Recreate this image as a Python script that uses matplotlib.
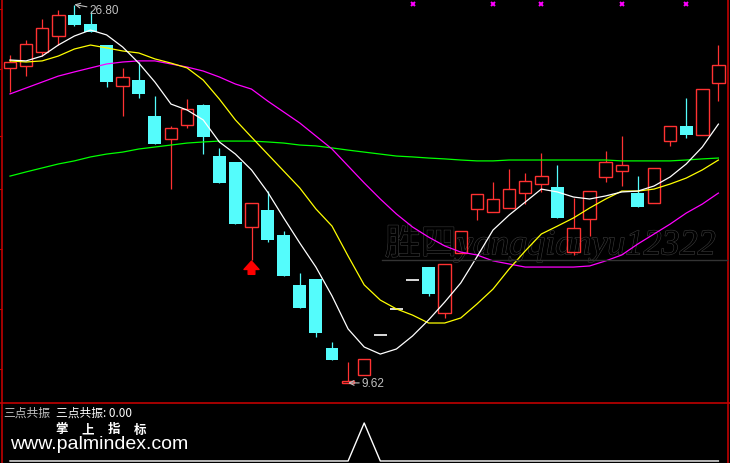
import numpy as np
import matplotlib
matplotlib.use("Agg")
import matplotlib.pyplot as plt
import matplotlib.patheffects as pe
from matplotlib.lines import Line2D

# candle data
opens = [23.92, 24.01, 24.64, 25.37, 26.32, 25.92, 24.96, 23.10, 23.37, 21.74,
         20.69, 21.33, 22.24, 19.92, 19.65, 16.70, 17.47, 16.34, 14.07, 14.34,
         11.21, 9.62, 9.98, 11.80, 12.98, 14.29, 14.88, 12.79, 15.52, 17.52,
         17.38, 17.56, 18.24, 18.65, 18.52, 15.56, 17.06, 18.97, 19.24, 18.24,
         17.79, 20.60, 21.28, 20.88, 23.24]
highs = [24.51, 25.19, 26.14, 26.55, 26.80, 26.51, 24.96, 23.92, 24.19, 22.65,
         21.28, 22.51, 22.28, 20.29, 19.65, 17.79, 18.33, 16.52, 14.61, 14.34,
         11.48, 10.57, 10.71, 11.80, 12.98, 14.29, 14.88, 15.02, 16.52, 18.20,
         18.74, 19.33, 19.15, 20.06, 19.51, 18.02, 18.33, 20.15, 20.83, 19.01,
         19.38, 21.28, 22.56, 22.96, 24.96]
lows = [22.83, 23.55, 24.46, 24.96, 25.82, 25.55, 23.06, 21.74, 22.56, 20.47,
        18.42, 21.19, 20.01, 18.70, 16.84, 15.20, 16.02, 14.47, 13.02, 11.70,
        10.66, 9.62, 9.98, 11.80, 12.98, 14.29, 13.57, 12.57, 15.52, 17.02,
        17.38, 17.56, 17.74, 18.29, 17.11, 15.43, 16.29, 18.74, 18.56, 17.61,
        17.79, 20.38, 20.74, 20.88, 22.42]
closes = [24.19, 25.01, 25.73, 26.32, 25.87, 25.55, 23.28, 23.51, 22.74, 20.47,
          21.19, 22.06, 20.79, 18.70, 16.84, 17.79, 16.11, 14.47, 13.02, 11.89,
          10.66, 9.71, 10.71, 11.80, 12.98, 14.29, 13.66, 15.02, 16.52, 18.20,
          17.97, 18.42, 18.79, 19.01, 17.11, 16.65, 18.33, 19.65, 19.51, 17.61,
          19.38, 21.28, 20.88, 22.96, 24.05]

ma_white = [24.28, 24.24, 24.46, 24.96, 25.37, 25.64, 25.42, 24.87, 24.14, 23.28,
            22.28, 22.01, 21.56, 20.56, 20.01, 19.29, 18.29, 17.11, 15.97, 14.88,
            13.57, 12.07, 11.25, 10.93, 11.16, 11.75, 12.48, 13.29, 14.16, 15.34,
            16.56, 17.24, 17.83, 18.42, 18.29, 18.06, 17.97, 18.11, 18.29, 18.33,
            18.56, 18.97, 19.56, 20.33, 21.37]
ma_yellow = [24.24, 24.19, 24.24, 24.46, 24.78, 24.96, 24.83, 24.69, 24.60, 24.33,
             24.14, 23.92, 23.37, 22.51, 21.56, 20.78, 20.01, 19.24, 18.47, 17.52,
             16.74, 15.38, 14.07, 13.38, 12.98, 12.70, 12.34, 12.34, 12.57, 13.20,
             13.88, 14.79, 15.61, 16.38, 16.74, 17.11, 17.56, 17.97, 18.33, 18.33,
             18.42, 18.65, 18.92, 19.29, 19.74]
ma_magenta = [22.74, 23.01, 23.28, 23.55, 23.74, 23.92, 24.10, 24.19, 24.24, 24.24,
              24.10, 23.96, 23.78, 23.51, 23.19, 22.96, 22.42, 21.92, 21.42, 20.83,
              20.24, 19.47, 18.70, 17.97, 17.29, 16.70, 16.24, 15.84, 15.56, 15.43,
              15.16, 15.02, 14.88, 14.88, 14.88, 14.88, 14.93, 15.16, 15.43, 15.93,
              16.38, 16.83, 17.33, 17.74, 18.24]
ma_green = [19.01, 19.20, 19.38, 19.56, 19.70, 19.88, 20.01, 20.10, 20.24, 20.33,
            20.42, 20.51, 20.56, 20.60, 20.60, 20.60, 20.56, 20.51, 20.42, 20.38,
            20.29, 20.19, 20.10, 20.01, 19.92, 19.88, 19.83, 19.79, 19.74, 19.70,
            19.70, 19.74, 19.74, 19.74, 19.74, 19.74, 19.74, 19.74, 19.70, 19.70,
            19.70, 19.70, 19.74, 19.79, 19.83]

# lower indicator
resonance = [0, 0, 0, 0, 0, 0, 0, 0, 0, 0, 0, 0, 0, 0, 0, 0, 0, 0, 0, 0, 0, 0,
             1, 0, 0, 0, 0, 0, 0, 0, 0, 0, 0, 0, 0, 0, 0, 0, 0, 0, 0, 0, 0, 0, 0]
cross_marks = [25, 30, 33, 38, 42]
signal_bar = 15

UP = "#ff3232"
DOWN = "#54fcfc"
FRAME = "#c00000"
W, H = 730, 464

fig = plt.figure(figsize=(W / 100, H / 100), dpi=100, facecolor="black")
ax = fig.add_axes([0, 60 / H, 1, 404 / H], facecolor="black")
ax2 = fig.add_axes([0, 0, 1, 59 / H], facecolor="black")

x = np.arange(len(opens))
o, h, l, c = map(np.array, (opens, highs, lows, closes))
up = c > o
dn = c < o
flat = c == o

# watermark (behind everything)
ax.text(0.527, 0.368, "胜四yangqianyu12322", transform=ax.transAxes, fontsize=26,
        family=["Liberation Serif", "Noto Sans CJK SC"], style="italic", color="black",
        ha="left", va="baseline", zorder=0,
        path_effects=[pe.Stroke(linewidth=0.8, foreground="#3c3c3c"), pe.Normal()])
fig.add_artist(Line2D([382 / W, 727 / W], [1 - 261 / H, 1 - 261 / H], color="#333333", lw=1))

# wicks
ax.vlines(x[up], np.maximum(o, c)[up], h[up], color=UP, lw=0.9)
ax.vlines(x[up], l[up], np.minimum(o, c)[up], color=UP, lw=0.9)
ax.vlines(x[dn], l[dn], h[dn], color=DOWN, lw=0.9)
ax.vlines(x[flat], l[flat], h[flat], color="white", lw=0.9)
# bodies
ax.bar(x[up], (c - o)[up], bottom=o[up], width=0.78, fill=False, edgecolor=UP, lw=1.0)
ax.bar(x[dn], (o - c)[dn], bottom=c[dn], width=0.8, color=DOWN, lw=0)
ax.hlines(c[flat], x[flat] - 0.4, x[flat] + 0.4, color="white", lw=1.2)

# moving averages
ax.plot(x, ma_green, color="#00ff00", lw=0.9)
ax.plot(x, ma_magenta, color="#ff00ff", lw=0.9)
ax.plot(x, ma_yellow, color="#ffff00", lw=0.9)
ax.plot(x, ma_white, color="white", lw=0.9)

# magenta x marks on top
ax.plot(cross_marks, [0.988] * len(cross_marks), ls="none", marker="x", ms=3.5,
        mew=1.4, color="#ff00ff", transform=ax.get_xaxis_transform())

# red up arrow under the signal bar
ax.annotate("", xy=(signal_bar, lows[signal_bar] - 0.05),
            xytext=(signal_bar, lows[signal_bar] - 0.65),
            arrowprops=dict(arrowstyle="simple,head_length=0.5,head_width=0.9,tail_width=0.4",
                            color="red", mutation_scale=12, shrinkA=0, shrinkB=0))

# high / low labels
ih = int(np.argmax(h))
il = int(np.argmin(l))
ax.annotate(f"{h[ih]:.2f}", xy=(ih, h[ih]), xytext=(11, -4), textcoords="offset points",
            color="#c0c0c0", fontsize=8.5, family="Liberation Sans", va="center",
            arrowprops=dict(arrowstyle="->", color="#c0c0c0", lw=0.8, shrinkA=0, shrinkB=0))
ax.annotate(f"{l[il]:.2f}", xy=(il, l[il]), xytext=(10, 0), textcoords="offset points",
            color="#c0c0c0", fontsize=8.5, family="Liberation Sans", va="center",
            arrowprops=dict(arrowstyle="->", color="#c0c0c0", lw=0.8, shrinkA=0, shrinkB=0))

ax.set_xlim(-10 / 16.1, (W - 10) / 16.1)
ax.set_ylim(27.05 - 0.0454 * 404, 27.05)
ax.set_yticks([26.60, 23.87, 20.83, 18.42, 15.70, 12.98, 10.25])
ax.set_xticks([])
ax.tick_params(axis="y", direction="out", length=3, color=FRAME, labelleft=False)
ax.spines["top"].set_visible(False)
ax.spines["left"].set_position(("axes", 2 / W))
ax.spines["right"].set_position(("axes", 728 / W))
for s in ("left", "right", "bottom"):
    ax.spines[s].set_color(FRAME)
    ax.spines[s].set_linewidth(1.2)

# lower panel
ax2.plot(x, resonance, color="white", lw=1)
ax2.set_xlim(ax.get_xlim())
ax2.set_ylim(-0.053, 1.5)
ax2.set_xticks([])
ax2.set_yticks([])
for s in ("top", "bottom"):
    ax2.spines[s].set_visible(False)
ax2.spines["left"].set_position(("axes", 2 / W))
ax2.spines["right"].set_position(("axes", 728 / W))
for s in ("left", "right"):
    ax2.spines[s].set_color(FRAME)
    ax2.spines[s].set_linewidth(1.2)

cjk = ["Noto Sans CJK SC", "DejaVu Sans"]
fig.text(3 / W, 1 - 413 / H, "三点共振", color="#c0c0c0", fontsize=8.5, family=cjk, va="center")
fig.text(56 / W, 1 - 413 / H, f"三点共振: {resonance[0]:.2f}", color="white", fontsize=8.5,
         family=cjk, va="center")
for k, ch in enumerate("掌上指标"):
    fig.text((62 + 26 * k) / W, 1 - 430 / H, ch, color="white", fontsize=9, fontweight="bold",
             family=cjk, ha="center", va="center")
fig.text(10 / W, 1 - 445 / H, "www.palmindex.com", color="white", fontsize=14,
         family="Liberation Sans", va="center")

fig.savefig("out.png", dpi=100, facecolor="black")
